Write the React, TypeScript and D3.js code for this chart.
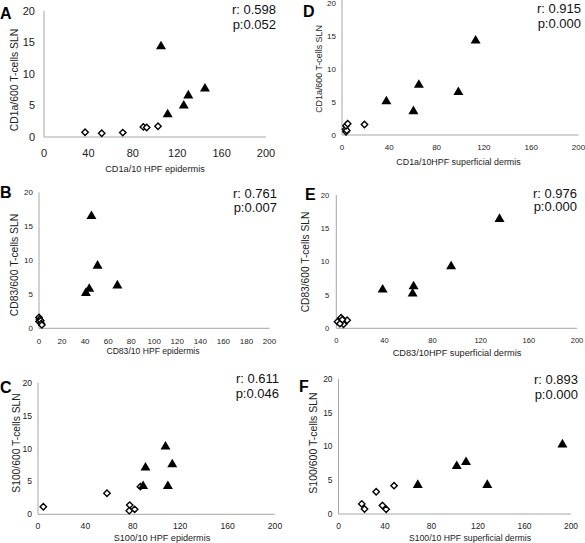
import React from "react";
import * as d3 from "d3";

// Panel A: CD1a epidermis
const aDiamondX = [37, 52, 71, 89.5, 92.5, 102.7];
const aDiamondY = [0.75, 0.6, 0.7, 1.6, 1.5, 1.7];
const aTriangleX = [105.4, 111.4, 125.9, 130, 145];
const aTriangleY = [14.6, 3.8, 5.2, 6.8, 7.9];
// Panel D: CD1a superficial dermis
const dDiamondX = [2.9, 3.4, 4, 3.4, 4.8, 19];
const dDiamondY = [0.86, 0.5, 0.7, 1.4, 1.7, 1.6];
const dTriangleX = [113, 37.5, 60.4, 65, 98.4];
const dTriangleY = [14.5, 5.3, 3.8, 7.8, 6.7];
// Panel B: CD83 epidermis
const bDiamondX = [0, 0.5, 0, 1.5, 2, 2.5];
const bDiamondY = [1.6, 1.3, 1.0, 1.1, 0.7, 0.5];
const bTriangleX = [45.5, 50.8, 43.6, 40.7, 68];
const bTriangleY = [16.7, 9.4, 6.0, 5.4, 6.5];
// Panel E: CD83 superficial dermis
const eDiamondX = [1, 4, 6, 9, 3, 5];
const eDiamondY = [1.0, 1.6, 0.6, 1.2, 0.7, 1.3];
const eTriangleX = [135.6, 95.4, 38.5, 64.2, 63.4];
const eTriangleY = [16.6, 9.5, 6.0, 6.5, 5.4];
// Panel C: S100 epidermis
const cDiamondX = [4.5, 58.2, 77.4, 77, 81.6, 86.4];
const cDiamondY = [1.15, 3.2, 1.4, 0.55, 0.75, 4.2];
const cTriangleX = [88.7, 90.7, 107.6, 113.3, 109.6];
const cTriangleY = [4.5, 7.3, 10.5, 7.8, 4.5];
// Panel F: S100 superficial dermis
const fDiamondX = [20, 22.4, 32.4, 37.8, 41, 47.8];
const fDiamondY = [1.5, 0.74, 3.3, 1.25, 0.7, 4.2];
const fTriangleX = [68.2, 101.7, 109.7, 128, 192.6];
const fTriangleY = [4.5, 7.3, 7.9, 4.5, 10.5];

const yTicks = [0, 5, 10, 15, 20];
const xTicks40 = [0, 40, 80, 120, 160, 200];
const xTicks20 = [0, 20, 40, 60, 80, 100, 120, 140, 160, 180, 200];

interface Panel {
  letter: string; r: string; p: string; xTitle: string; yTitle: string;
  dx: number[]; dy: number[]; tx: number[]; ty: number[]; xTicks: number[];
  x0: number; x1: number; y0: number; y1: number;
  tickFs: number; xtB: number; ytGap: number;
  xTitleX: number; xTitleB: number; xTitleFs: number;
  yTitleX: number; yTitleY: number; yTitleFs: number;
  letX: number; letB: number; rRight: number; rB: number; pB: number; axisTop: number;
}

const panels: Panel[] = [
  { letter: "A", r: "r: 0.598", p: "p:0.052", xTitle: "CD1a/10 HPF epidermis", yTitle: "CD1a/600 T-cells SLN",
    dx: aDiamondX, dy: aDiamondY, tx: aTriangleX, ty: aTriangleY, xTicks: xTicks40,
    x0: 44, x1: 266, y0: 137, y1: 11, tickFs: 11, xtB: 156.5, ytGap: 9,
    xTitleX: 155, xTitleB: 172, xTitleFs: 9.2, yTitleX: 14, yTitleY: 80, yTitleFs: 10.4,
    letX: 0, letB: 19, rRight: 276, rB: 14, pB: 29, axisTop: 11 },
  { letter: "D", r: "r: 0.915", p: "p:0.000", xTitle: "CD1a/10HPF superficial dermis", yTitle: "CD1a/600 T-cells SLN",
    dx: dDiamondX, dy: dDiamondY, tx: dTriangleX, ty: dTriangleY, xTicks: xTicks40,
    x0: 342, x1: 578.5, y0: 135, y1: 3, tickFs: 8, xtB: 150, ytGap: 6,
    xTitleX: 458.5, xTitleB: 165, xTitleFs: 8.9, yTitleX: 318.7, yTitleY: 69, yTitleFs: 8.9,
    letX: 303, letB: 17, rRight: 581, rB: 13, pB: 28, axisTop: 0 },
  { letter: "B", r: "r: 0.761", p: "p:0.007", xTitle: "CD83/10 HPF epidermis", yTitle: "CD83/600 T-cells SLN",
    dx: bDiamondX, dy: bDiamondY, tx: bTriangleX, ty: bTriangleY, xTicks: xTicks20,
    x0: 39, x1: 269.5, y0: 328.3, y1: 192.3, tickFs: 8, xtB: 344, ytGap: 6,
    xTitleX: 153, xTitleB: 354, xTitleFs: 8.6, yTitleX: 14, yTitleY: 265, yTitleFs: 10.4,
    letX: 0, letB: 198, rRight: 277, rB: 198, pB: 212, axisTop: 192.3 },
  { letter: "E", r: "r: 0.976", p: "p:0.000", xTitle: "CD83/10HPF superficial dermis", yTitle: "CD83/600 T-cells SLN",
    dx: eDiamondX, dy: eDiamondY, tx: eTriangleX, ty: eTriangleY, xTicks: xTicks40,
    x0: 336.3, x1: 577, y0: 328.3, y1: 195, tickFs: 7.6, xtB: 342.5, ytGap: 7,
    xTitleX: 457, xTitleB: 356, xTitleFs: 9.2, yTitleX: 305.3, yTitleY: 262, yTitleFs: 10.2,
    letX: 305, letB: 200, rRight: 577, rB: 197.5, pB: 211, axisTop: 195 },
  { letter: "C", r: "r: 0.611", p: "p:0.046", xTitle: "S100/10 HPF epidermis", yTitle: "S100/600 T-cells SLN",
    dx: cDiamondX, dy: cDiamondY, tx: cTriangleX, ty: cTriangleY, xTicks: xTicks40,
    x0: 38, x1: 275, y0: 514.3, y1: 382.7, tickFs: 8.6, xtB: 529, ytGap: 6,
    xTitleX: 162, xTitleB: 541, xTitleFs: 9.1, yTitleX: 16, yTitleY: 443, yTitleFs: 10.3,
    letX: 0, letB: 393, rRight: 279, rB: 383, pB: 398, axisTop: 382.7 },
  { letter: "F", r: "r: 0.893", p: "p:0.000", xTitle: "S100/10 HPF superficial dermis", yTitle: "S100/600 T-cells SLN",
    dx: fDiamondX, dy: fDiamondY, tx: fTriangleX, ty: fTriangleY, xTicks: xTicks40,
    x0: 338.5, x1: 571, y0: 514, y1: 379, tickFs: 8.4, xtB: 529, ytGap: 6,
    xTitleX: 470, xTitleB: 541, xTitleFs: 8.7, yTitleX: 313.7, yTitleY: 443, yTitleFs: 10.5,
    letX: 299, letB: 392, rRight: 578, rB: 384, pB: 399, axisTop: 379 },
];

const FONT = "'Liberation Sans', Arial, sans-serif";

function PanelView({ p }: { p: Panel }) {
  const x = d3.scaleLinear().domain([0, 200]).range([p.x0, p.x1]);
  const y = d3.scaleLinear().domain([0, 20]).range([p.y0, p.y1]);
  const diamond = (cx: number, cy: number) => {
    const s = 3.2;
    return `M${cx},${cy - s}L${cx + s},${cy}L${cx},${cy + s}L${cx - s},${cy}Z`;
  };
  const tri = (cx: number, cy: number) => {
    const w = 5, h = 4.3;
    return `M${cx},${cy - h}L${cx + w},${cy + h}L${cx - w},${cy + h}Z`;
  };
  return (
    <g fontFamily={FONT}>
      <line x1={p.x0} x2={p.x0} y1={p.axisTop} y2={p.y0} stroke="#a6a6a6" strokeWidth={1} />
      <line x1={p.x0} x2={p.x1} y1={p.y0} y2={p.y0} stroke="#a6a6a6" strokeWidth={1} />
      {yTicks.map((t) => (
        <text key={"y" + t} x={p.x0 - p.ytGap} y={y(t)} dy="0.35em" textAnchor="end" fontSize={p.tickFs} fill="#222">{t}</text>
      ))}
      {p.xTicks.map((t) => (
        <text key={"x" + t} x={x(t)} y={p.xtB} textAnchor="middle" fontSize={p.tickFs} fill="#222">{t}</text>
      ))}
      <text x={p.xTitleX} y={p.xTitleB} textAnchor="middle" fontSize={p.xTitleFs} fill="#222">{p.xTitle}</text>
      <text transform={`translate(${p.yTitleX},${p.yTitleY}) rotate(-90)`} dy="0.35em" textAnchor="middle" fontSize={p.yTitleFs} fill="#222">{p.yTitle}</text>
      <text x={p.letX} y={p.letB} fontSize={16} fontWeight="bold" fill="#000">{p.letter}</text>
      <text x={p.rRight} y={p.rB} textAnchor="end" fontSize={13} fill="#111">{p.r}</text>
      <text x={p.rRight} y={p.pB} textAnchor="end" fontSize={13} fill="#111">{p.p}</text>
      {p.dx.map((v, i) => (
        <path key={"d" + i} d={diamond(x(v), y(p.dy[i]))} fill="#fff" stroke="#000" strokeWidth={1.4} />
      ))}
      {p.tx.map((v, i) => (
        <path key={"t" + i} d={tri(x(v), y(p.ty[i]))} fill="#000" />
      ))}
    </g>
  );
}

export default function App() {
  return (
    <svg width={585} height={543} style={{ position: "absolute", left: 0, top: 0, background: "#fff" }}>
      <rect width={585} height={543} fill="#fff" />
      {panels.map((p) => <PanelView key={p.letter} p={p} />)}
    </svg>
  );
}
